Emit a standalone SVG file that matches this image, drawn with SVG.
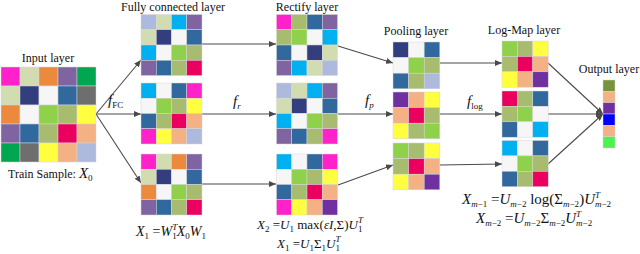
<svg xmlns="http://www.w3.org/2000/svg" width="640" height="254" viewBox="0 0 640 254">
<style>
text{font-family:"Liberation Serif","Times New Roman",serif;fill:#111}
.lbl{font-size:12px;text-anchor:middle}
.m{font-size:15px}
.m1{font-size:14px}
.m2{font-size:13px}
.i{font-style:italic}
.s{font-size:9px}
.cell rect{stroke:#d6d6d6;stroke-width:0.5}
.mg{fill:#FF21C9}.sg{fill:#D1DDB0}.or{fill:#EB8A3D}.pu{fill:#8064A2}.gr{fill:#00A650}
.nv{fill:#323E7E}.wh{fill:#F6F6F6}.sb{fill:#31689E}.gy{fill:#6E6E6E}.lm{fill:#8FD14A}
.ol{fill:#A8BC6F}.ye{fill:#FFFF40}.cr{fill:#EA005E}.pc{fill:#F4B183}.lv{fill:#AEB9DE}
.cy{fill:#00B0F0}.dp{fill:#7030A0}.ov{fill:#77933C}.bl{fill:#0000FF}.bg{fill:#50F050}
.conn line{stroke:#4a4a4a;stroke-width:1.1;marker-end:url(#ah)}
</style>
<defs>
<marker id="ah" markerWidth="7" markerHeight="6" refX="7" refY="3" orient="auto" markerUnits="userSpaceOnUse">
<path d="M0,0 L7,3 L0,6 z" fill="#4a4a4a"/>
</marker>
</defs>

<g id="connectors" class="conn">
<line x1="96" y1="114" x2="141" y2="60"/>
<line x1="96" y1="114" x2="141" y2="114"/>
<line x1="96" y1="114" x2="141" y2="183"/>
<line x1="202" y1="44" x2="276" y2="44"/>
<line x1="202" y1="114" x2="276" y2="114"/>
<line x1="202" y1="184" x2="276" y2="184"/>
<line x1="338" y1="46" x2="393" y2="63"/>
<line x1="338" y1="114" x2="393" y2="114"/>
<line x1="338" y1="185" x2="393" y2="165"/>
<line x1="440" y1="63" x2="502" y2="63"/>
<line x1="440" y1="114" x2="502" y2="114"/>
<line x1="440" y1="165" x2="502" y2="164"/>
<line x1="548" y1="63" x2="603" y2="114"/>
<line x1="548" y1="114" x2="603" y2="114"/>
<line x1="548" y1="164" x2="603" y2="114"/>
<text class="m i" x="108" y="105">f<tspan class="s" dy="3" font-style="normal">FC</tspan></text>
<text class="m i" x="233" y="106">f<tspan class="s" dy="3">r</tspan></text>
<text class="m i" x="365" y="105">f<tspan class="s" dy="3">p</tspan></text>
<text class="m i" x="467" y="106">f<tspan class="s" dy="3" font-style="normal">log</tspan></text>
</g>

<g id="input-layer">
<text class="lbl" x="48" y="62">Input layer</text>
<g class="cell" transform="translate(1,67)">
<rect x="0" y="0" width="19" height="19" class="mg"/><rect x="19" y="0" width="19" height="19" class="sg"/><rect x="38" y="0" width="19" height="19" class="or"/><rect x="57" y="0" width="19" height="19" class="pu"/><rect x="76" y="0" width="19" height="19" class="gr"/>
<rect x="0" y="19" width="19" height="19" class="sg"/><rect x="19" y="19" width="19" height="19" class="nv"/><rect x="38" y="19" width="19" height="19" class="wh"/><rect x="57" y="19" width="19" height="19" class="sb"/><rect x="76" y="19" width="19" height="19" class="gy"/>
<rect x="0" y="38" width="19" height="19" class="or"/><rect x="19" y="38" width="19" height="19" class="wh"/><rect x="38" y="38" width="19" height="19" class="lm"/><rect x="57" y="38" width="19" height="19" class="ol"/><rect x="76" y="38" width="19" height="19" class="ye"/>
<rect x="0" y="57" width="19" height="19" class="pu"/><rect x="19" y="57" width="19" height="19" class="sb"/><rect x="38" y="57" width="19" height="19" class="ol"/><rect x="57" y="57" width="19" height="19" class="cr"/><rect x="76" y="57" width="19" height="19" class="pc"/>
<rect x="0" y="76" width="19" height="19" class="gr"/><rect x="19" y="76" width="19" height="19" class="gy"/><rect x="38" y="76" width="19" height="19" class="ye"/><rect x="57" y="76" width="19" height="19" class="pc"/><rect x="76" y="76" width="19" height="19" class="lv"/>
</g>
<text x="8" y="178" font-size="12">Train Sample: <tspan class="i" font-size="15">X</tspan><tspan font-size="9" dy="3">0</tspan></text>
</g>

<g id="fc-layer">
<text class="lbl" x="173" y="11">Fully connected layer</text>
<g class="cell" transform="translate(141,14.5)">
<rect x="0" y="0" width="15.25" height="15.25" class="lv"/><rect x="15.25" y="0" width="15.25" height="15.25" class="sg"/><rect x="30.5" y="0" width="15.25" height="15.25" class="cy"/><rect x="45.75" y="0" width="15.25" height="15.25" class="pu"/>
<rect x="0" y="15.25" width="15.25" height="15.25" class="sg"/><rect x="15.25" y="15.25" width="15.25" height="15.25" class="nv"/><rect x="30.5" y="15.25" width="15.25" height="15.25" class="wh"/><rect x="45.75" y="15.25" width="15.25" height="15.25" class="sb"/>
<rect x="0" y="30.5" width="15.25" height="15.25" class="cy"/><rect x="15.25" y="30.5" width="15.25" height="15.25" class="wh"/><rect x="30.5" y="30.5" width="15.25" height="15.25" class="lm"/><rect x="45.75" y="30.5" width="15.25" height="15.25" class="ol"/>
<rect x="0" y="45.75" width="15.25" height="15.25" class="pu"/><rect x="15.25" y="45.75" width="15.25" height="15.25" class="sb"/><rect x="30.5" y="45.75" width="15.25" height="15.25" class="ol"/><rect x="45.75" y="45.75" width="15.25" height="15.25" class="cr"/>
</g>
<g class="cell" transform="translate(141,83)">
<rect x="0" y="0" width="15.25" height="15.25" class="cy"/><rect x="15.25" y="0" width="15.25" height="15.25" class="wh"/><rect x="30.5" y="0" width="15.25" height="15.25" class="sb"/><rect x="45.75" y="0" width="15.25" height="15.25" class="mg"/>
<rect x="0" y="15.25" width="15.25" height="15.25" class="wh"/><rect x="15.25" y="15.25" width="15.25" height="15.25" class="lm"/><rect x="30.5" y="15.25" width="15.25" height="15.25" class="ol"/><rect x="45.75" y="15.25" width="15.25" height="15.25" class="ye"/>
<rect x="0" y="30.5" width="15.25" height="15.25" class="sb"/><rect x="15.25" y="30.5" width="15.25" height="15.25" class="ol"/><rect x="30.5" y="30.5" width="15.25" height="15.25" class="cr"/><rect x="45.75" y="30.5" width="15.25" height="15.25" class="pc"/>
<rect x="0" y="45.75" width="15.25" height="15.25" class="mg"/><rect x="15.25" y="45.75" width="15.25" height="15.25" class="ye"/><rect x="30.5" y="45.75" width="15.25" height="15.25" class="pc"/><rect x="45.75" y="45.75" width="15.25" height="15.25" class="lv"/>
</g>
<g class="cell" transform="translate(141,154)">
<rect x="0" y="0" width="15.25" height="15.25" class="mg"/><rect x="15.25" y="0" width="15.25" height="15.25" class="sg"/><rect x="30.5" y="0" width="15.25" height="15.25" class="or"/><rect x="45.75" y="0" width="15.25" height="15.25" class="pu"/>
<rect x="0" y="15.25" width="15.25" height="15.25" class="sg"/><rect x="15.25" y="15.25" width="15.25" height="15.25" class="nv"/><rect x="30.5" y="15.25" width="15.25" height="15.25" class="wh"/><rect x="45.75" y="15.25" width="15.25" height="15.25" class="sb"/>
<rect x="0" y="30.5" width="15.25" height="15.25" class="or"/><rect x="15.25" y="30.5" width="15.25" height="15.25" class="wh"/><rect x="30.5" y="30.5" width="15.25" height="15.25" class="lm"/><rect x="45.75" y="30.5" width="15.25" height="15.25" class="ol"/>
<rect x="0" y="45.75" width="15.25" height="15.25" class="pu"/><rect x="15.25" y="45.75" width="15.25" height="15.25" class="sb"/><rect x="30.5" y="45.75" width="15.25" height="15.25" class="ol"/><rect x="45.75" y="45.75" width="15.25" height="15.25" class="cr"/>
</g>
<text class="m1" x="136" y="236"><tspan class="i">X</tspan><tspan class="s" dy="3">1</tspan><tspan dy="-3"> =</tspan><tspan class="i">W</tspan><tspan class="s i" dy="-6">T</tspan><tspan class="s" dx="-5" dy="9">1</tspan><tspan class="i" dy="-3">X</tspan><tspan class="s" dy="3">0</tspan><tspan class="i" dy="-3">W</tspan><tspan class="s" dy="3">1</tspan></text>
</g>

<g id="rectify-layer">
<text class="lbl" x="307" y="11">Rectify layer</text>
<g class="cell" transform="translate(276.5,14.5)">
<rect x="0" y="0" width="15.25" height="15.25" class="mg"/><rect x="15.25" y="0" width="15.25" height="15.25" class="ol"/><rect x="30.5" y="0" width="15.25" height="15.25" class="sb"/><rect x="45.75" y="0" width="15.25" height="15.25" class="pu"/>
<rect x="0" y="15.25" width="15.25" height="15.25" class="ol"/><rect x="15.25" y="15.25" width="15.25" height="15.25" class="lm"/><rect x="30.5" y="15.25" width="15.25" height="15.25" class="wh"/><rect x="45.75" y="15.25" width="15.25" height="15.25" class="cy"/>
<rect x="0" y="30.5" width="15.25" height="15.25" class="sb"/><rect x="15.25" y="30.5" width="15.25" height="15.25" class="wh"/><rect x="30.5" y="30.5" width="15.25" height="15.25" class="nv"/><rect x="45.75" y="30.5" width="15.25" height="15.25" class="sg"/>
<rect x="0" y="45.75" width="15.25" height="15.25" class="pu"/><rect x="15.25" y="45.75" width="15.25" height="15.25" class="cy"/><rect x="30.5" y="45.75" width="15.25" height="15.25" class="sg"/><rect x="45.75" y="45.75" width="15.25" height="15.25" class="lv"/>
</g>
<g class="cell" transform="translate(276.5,83)">
<rect x="0" y="0" width="15.25" height="15.25" class="lv"/><rect x="15.25" y="0" width="15.25" height="15.25" class="sg"/><rect x="30.5" y="0" width="15.25" height="15.25" class="cy"/><rect x="45.75" y="0" width="15.25" height="15.25" class="pu"/>
<rect x="0" y="15.25" width="15.25" height="15.25" class="sg"/><rect x="15.25" y="15.25" width="15.25" height="15.25" class="nv"/><rect x="30.5" y="15.25" width="15.25" height="15.25" class="wh"/><rect x="45.75" y="15.25" width="15.25" height="15.25" class="sb"/>
<rect x="0" y="30.5" width="15.25" height="15.25" class="cy"/><rect x="15.25" y="30.5" width="15.25" height="15.25" class="wh"/><rect x="30.5" y="30.5" width="15.25" height="15.25" class="lm"/><rect x="45.75" y="30.5" width="15.25" height="15.25" class="ol"/>
<rect x="0" y="45.75" width="15.25" height="15.25" class="pu"/><rect x="15.25" y="45.75" width="15.25" height="15.25" class="sb"/><rect x="30.5" y="45.75" width="15.25" height="15.25" class="ol"/><rect x="45.75" y="45.75" width="15.25" height="15.25" class="mg"/>
</g>
<g class="cell" transform="translate(276.5,154)">
<rect x="0" y="0" width="15.25" height="15.25" class="cy"/><rect x="15.25" y="0" width="15.25" height="15.25" class="wh"/><rect x="30.5" y="0" width="15.25" height="15.25" class="sb"/><rect x="45.75" y="0" width="15.25" height="15.25" class="mg"/>
<rect x="0" y="15.25" width="15.25" height="15.25" class="wh"/><rect x="15.25" y="15.25" width="15.25" height="15.25" class="lm"/><rect x="30.5" y="15.25" width="15.25" height="15.25" class="ol"/><rect x="45.75" y="15.25" width="15.25" height="15.25" class="ye"/>
<rect x="0" y="30.5" width="15.25" height="15.25" class="sb"/><rect x="15.25" y="30.5" width="15.25" height="15.25" class="ol"/><rect x="30.5" y="30.5" width="15.25" height="15.25" class="cr"/><rect x="45.75" y="30.5" width="15.25" height="15.25" class="pc"/>
<rect x="0" y="45.75" width="15.25" height="15.25" class="mg"/><rect x="15.25" y="45.75" width="15.25" height="15.25" class="ye"/><rect x="30.5" y="45.75" width="15.25" height="15.25" class="pc"/><rect x="45.75" y="45.75" width="15.25" height="15.25" class="dp"/>
</g>
<text class="m2" x="257" y="229"><tspan class="i">X</tspan><tspan class="s" dy="3">2</tspan><tspan dy="-3"> =</tspan><tspan class="i">U</tspan><tspan class="s" dy="3">1</tspan><tspan dy="-3"> max(</tspan><tspan class="i">εI</tspan><tspan>,Σ)</tspan><tspan class="i">U</tspan><tspan class="s i" dy="-6">T</tspan><tspan class="s" dx="-5" dy="9">1</tspan></text>
<text class="m2" x="277" y="248"><tspan class="i">X</tspan><tspan class="s" dy="3">1</tspan><tspan dy="-3"> =</tspan><tspan class="i">U</tspan><tspan class="s" dy="3">1</tspan><tspan dy="-3">Σ</tspan><tspan class="s" dy="3">1</tspan><tspan class="i" dy="-3">U</tspan><tspan class="s i" dy="-6">T</tspan><tspan class="s" dx="-5" dy="9">1</tspan></text>
</g>

<g id="pooling-layer">
<text class="lbl" x="416" y="35">Pooling layer</text>
<g class="cell" transform="translate(393,42)">
<rect x="0" y="0" width="15.6" height="15.6" class="nv"/><rect x="15.6" y="0" width="15.6" height="15.6" class="wh"/><rect x="31.2" y="0" width="15.6" height="15.6" class="sb"/>
<rect x="0" y="15.6" width="15.6" height="15.6" class="wh"/><rect x="15.6" y="15.6" width="15.6" height="15.6" class="lm"/><rect x="31.2" y="15.6" width="15.6" height="15.6" class="ol"/>
<rect x="0" y="31.2" width="15.6" height="15.6" class="sb"/><rect x="15.6" y="31.2" width="15.6" height="15.6" class="ol"/><rect x="31.2" y="31.2" width="15.6" height="15.6" class="lv"/>
</g>
<g class="cell" transform="translate(393,92)">
<rect x="0" y="0" width="15.6" height="15.6" class="dp"/><rect x="15.6" y="0" width="15.6" height="15.6" class="pc"/><rect x="31.2" y="0" width="15.6" height="15.6" class="ye"/>
<rect x="0" y="15.6" width="15.6" height="15.6" class="pc"/><rect x="15.6" y="15.6" width="15.6" height="15.6" class="cr"/><rect x="31.2" y="15.6" width="15.6" height="15.6" class="ol"/>
<rect x="0" y="31.2" width="15.6" height="15.6" class="ye"/><rect x="15.6" y="31.2" width="15.6" height="15.6" class="ol"/><rect x="31.2" y="31.2" width="15.6" height="15.6" class="lm"/>
</g>
<g class="cell" transform="translate(393,143)">
<rect x="0" y="0" width="15.6" height="15.6" class="lm"/><rect x="15.6" y="0" width="15.6" height="15.6" class="ol"/><rect x="31.2" y="0" width="15.6" height="15.6" class="ye"/>
<rect x="0" y="15.6" width="15.6" height="15.6" class="ol"/><rect x="15.6" y="15.6" width="15.6" height="15.6" class="cr"/><rect x="31.2" y="15.6" width="15.6" height="15.6" class="pc"/>
<rect x="0" y="31.2" width="15.6" height="15.6" class="ye"/><rect x="15.6" y="31.2" width="15.6" height="15.6" class="pc"/><rect x="31.2" y="31.2" width="15.6" height="15.6" class="dp"/>
</g>
</g>

<g id="logmap-layer">
<text class="lbl" x="524" y="34">Log-Map layer</text>
<g class="cell" transform="translate(502,41)">
<rect x="0" y="0" width="15.4" height="15.4" class="lm"/><rect x="15.4" y="0" width="15.4" height="15.4" class="ol"/><rect x="30.8" y="0" width="15.4" height="15.4" class="ye"/>
<rect x="0" y="15.4" width="15.4" height="15.4" class="ol"/><rect x="15.4" y="15.4" width="15.4" height="15.4" class="cr"/><rect x="30.8" y="15.4" width="15.4" height="15.4" class="pc"/>
<rect x="0" y="30.8" width="15.4" height="15.4" class="ye"/><rect x="15.4" y="30.8" width="15.4" height="15.4" class="pc"/><rect x="30.8" y="30.8" width="15.4" height="15.4" class="dp"/>
</g>
<g class="cell" transform="translate(502,91)">
<rect x="0" y="0" width="15.4" height="15.4" class="cr"/><rect x="15.4" y="0" width="15.4" height="15.4" class="ol"/><rect x="30.8" y="0" width="15.4" height="15.4" class="sb"/>
<rect x="0" y="15.4" width="15.4" height="15.4" class="ol"/><rect x="15.4" y="15.4" width="15.4" height="15.4" class="lm"/><rect x="30.8" y="15.4" width="15.4" height="15.4" class="wh"/>
<rect x="0" y="30.8" width="15.4" height="15.4" class="sb"/><rect x="15.4" y="30.8" width="15.4" height="15.4" class="wh"/><rect x="30.8" y="30.8" width="15.4" height="15.4" class="cy"/>
</g>
<g class="cell" transform="translate(502,140.5)">
<rect x="0" y="0" width="15.4" height="15.4" class="cy"/><rect x="15.4" y="0" width="15.4" height="15.4" class="wh"/><rect x="30.8" y="0" width="15.4" height="15.4" class="sb"/>
<rect x="0" y="15.4" width="15.4" height="15.4" class="wh"/><rect x="15.4" y="15.4" width="15.4" height="15.4" class="lm"/><rect x="30.8" y="15.4" width="15.4" height="15.4" class="ol"/>
<rect x="0" y="30.8" width="15.4" height="15.4" class="sb"/><rect x="15.4" y="30.8" width="15.4" height="15.4" class="ol"/><rect x="30.8" y="30.8" width="15.4" height="15.4" class="cr"/>
</g>
<text class="m" x="462" y="204"><tspan class="i">X</tspan><tspan class="s" dy="3"><tspan class="i">m</tspan>−1</tspan><tspan dy="-3"> =</tspan><tspan class="i">U</tspan><tspan class="s" dy="3"><tspan class="i">m</tspan>−2</tspan><tspan dy="-3"> log(Σ</tspan><tspan class="s" dy="3"><tspan class="i">m</tspan>−2</tspan><tspan dy="-3">)</tspan><tspan class="i">U</tspan><tspan class="s i" dy="-6">T</tspan><tspan class="s" dx="-5" dy="9"><tspan class="i">m</tspan>−2</tspan></text>
<text class="m" x="476" y="223"><tspan class="i">X</tspan><tspan class="s" dy="3"><tspan class="i">m</tspan>−2</tspan><tspan dy="-3"> =</tspan><tspan class="i">U</tspan><tspan class="s" dy="3"><tspan class="i">m</tspan>−2</tspan><tspan dy="-3">Σ</tspan><tspan class="s" dy="3"><tspan class="i">m</tspan>−2</tspan><tspan class="i" dy="-3">U</tspan><tspan class="s i" dy="-6">T</tspan><tspan class="s" dx="-5" dy="9"><tspan class="i">m</tspan>−2</tspan></text>
</g>

<g id="output-layer">
<text class="lbl" x="609" y="73">Output layer</text>
<g class="cell" transform="translate(603,80)">
<rect x="0" y="0" width="12" height="11.33" class="ov"/><rect x="0" y="11.33" width="12" height="11.33" class="pc"/><rect x="0" y="22.67" width="12" height="11.33" class="dp"/><rect x="0" y="34" width="12" height="11.33" class="bl"/><rect x="0" y="45.33" width="12" height="11.33" class="pc"/><rect x="0" y="56.67" width="12" height="11.33" class="bg"/>
</g>
</g>
</svg>
